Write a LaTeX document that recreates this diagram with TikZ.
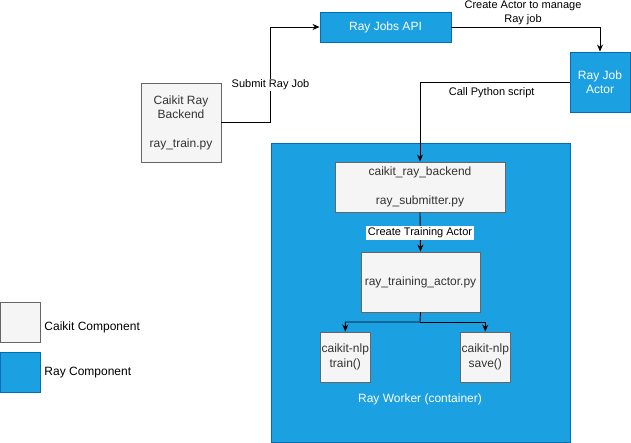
\documentclass[tikz,border=0pt]{standalone}
\usepackage{fontspec}
\setmainfont{Liberation Sans}
\usetikzlibrary{arrows.meta}

\definecolor{raybg}{HTML}{1BA1E2}
\definecolor{rayline}{HTML}{006EAF}
\definecolor{caikitbg}{HTML}{F5F5F5}
\definecolor{caikitline}{HTML}{666666}
\definecolor{caikittext}{HTML}{333333}

\tikzset{
    caikit/.style={draw=caikitline, fill=caikitbg, text=caikittext, line width=0.9pt,
        inner sep=0pt, align=center, font=\fontsize{12}{14.3}\selectfont},
    ray/.style={draw=rayline, fill=raybg, text=white, line width=0.9pt,
        inner sep=0pt, align=center, font=\fontsize{12}{14.3}\selectfont},
    edgelabel/.style={font=\fontsize{11}{13.5}\selectfont, inner sep=1pt, align=center},
}

\begin{document}
\begin{tikzpicture}[x=1pt, y=-1pt, >={Stealth[length=7pt,width=6pt]}]
    \useasboundingbox (0,0) rectangle (631,443);
    % boxes
    \node[caikit, minimum width=80, minimum height=79] (backend) at (181,122.5)
        {Caikit Ray\\Backend\\[14.3pt]ray\_train.py};
    \node[ray, minimum width=131, minimum height=30] (jobsapi) at (385.5,27) {Ray Jobs API};
    \node[ray, minimum width=60, minimum height=60] (actor) at (600,82) {Ray Job\\Actor};
    \node[ray, minimum width=299, minimum height=299] (worker) at (420.5,292.5) {};
    \node[text=white, font=\fontsize{12}{14.3}\selectfont] (workerlabel) at (420,399) {Ray Worker (container)};
    \node[caikit, minimum width=170, minimum height=50] (submitter) at (420,187)
        {caikit\_ray\_backend\\[14.7pt]ray\_submitter.py};
    \node[caikit, minimum width=119, minimum height=60] (trainactor) at (420.5,282) {ray\_training\_actor.py};
    \node[caikit, minimum width=50, minimum height=50] (train) at (345.3,357) {caikit-nlp\\train()};
    \node[caikit, minimum width=50, minimum height=50] (save) at (485.3,357) {caikit-nlp\\save()};
    % legend
    \node[caikit, minimum width=40, minimum height=40] (caikitkey) at (20.5,322) {};
    \node[ray, minimum width=40, minimum height=40] (raykey) at (20.5,372) {};
    \node[anchor=west, inner sep=0pt, font=\fontsize{12}{14.3}\selectfont] at ([yshift=-5pt]caikitkey.east) {~Caikit Component};
    \node[anchor=west, inner sep=0pt, font=\fontsize{12}{14.3}\selectfont] at ([yshift=-1pt]raykey.east) {~Ray Component};
    % connectors
    \draw[->, line width=0.9pt] (backend.east) -- (270.7,122.5) |- (jobsapi.west);
    \node[edgelabel, fill=white] at (270.5,85) {Submit Ray Job};
    \draw[->, line width=0.9pt] (jobsapi.east) -| (actor.north);
    \node[edgelabel] at (523,13) {Create Actor to manage\\Ray job};
    \draw[->, line width=0.9pt] (actor.west) -| (submitter.north);
    \node[edgelabel] at (491.7,93) {Call Python script};
    \draw[->, line width=0.9pt] (submitter.south) -- (trainactor.north);
    \node[edgelabel, fill=white, inner sep=2pt] at (420,233) {Create Training Actor};
    \coordinate (split) at (420,322);
    \draw[->, line width=0.9pt] (trainactor.south) -- (split) -| (train.north);
    \draw[->, line width=0.9pt] (split) -| (save.north);
\end{tikzpicture}
\end{document}
